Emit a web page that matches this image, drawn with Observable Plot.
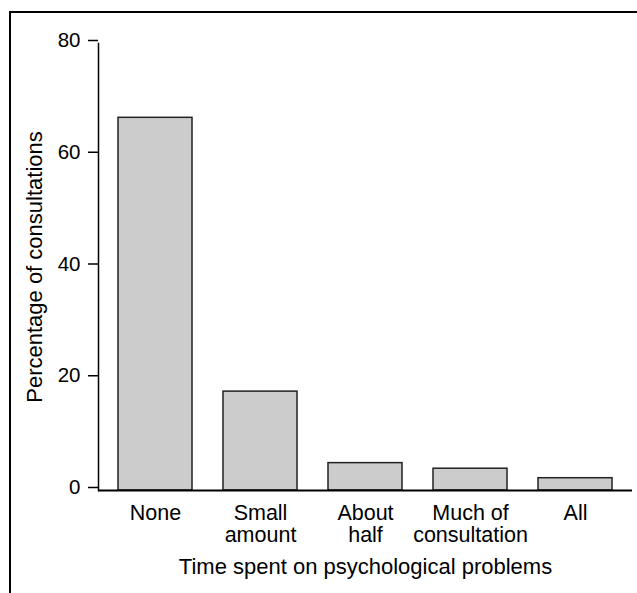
<!DOCTYPE html>
<html>
<head>
<meta charset="utf-8">
<script src="https://cdn.jsdelivr.net/npm/d3@7"></script>
<script src="https://cdn.jsdelivr.net/npm/@observablehq/plot@0.6"></script>
<style>
  html, body { margin: 0; padding: 0; background: #fff; }
  #wrap { position: relative; width: 637px; height: 593px; overflow: hidden; }
  #frame { position: absolute; left: 9px; top: 11px; width: 640px; height: 600px;
           border-left: 2px solid #000; border-top: 2px solid #000; pointer-events: none; }
  #chart { position: absolute; left: 0; top: 0; }
</style>
</head>
<body>
<div id="wrap"><div id="chart"></div><div id="frame"></div></div>
<script>
const categories = ["None", "Small amount", "About half", "Much of consultation", "All"];
const tickLabels = ["None", "Small\namount", "About\nhalf", "Much of\nconsultation", "All"];
const values = [66.7, 17.7, 4.9, 3.9, 2.2];
const yTicks = [0, 20, 40, 60, 80];
const xTitle = "Time spent on psychological problems";
const yTitle = "Percentage of consultations";

const data = categories.map((c, i) => ({category: c, value: values[i]}));
const labelOf = new Map(categories.map((c, i) => [c, tickLabels[i]]));

const chart = Plot.plot({
  width: 637,
  height: 593,
  marginLeft: 98,
  marginRight: 5,
  marginTop: 43,
  marginBottom: 103,
  style: {fontFamily: "'Liberation Sans', Arial, sans-serif", background: "white", color: "black"},
  x: {domain: categories, paddingInner: 0.3, paddingOuter: 0.17},
  y: {domain: [0, 80]},
  marks: [
    Plot.barY(data, {x: "category", y: "value", fill: "#cccccc", stroke: "#222", strokeWidth: 1.5}),
    Plot.axisY({ticks: yTicks, tickSize: 10, tickPadding: 8, fontSize: 20.5, dy: -3, strokeWidth: 1.5, label: null}),
    Plot.axisX({tickSize: 0, tickPadding: 13, fontSize: 21.5, lineHeight: 1.06,
      tickFormat: d => labelOf.get(d), label: null}),
    Plot.text([xTitle], {frameAnchor: "bottom", dy: 83, lineAnchor: "bottom", textAnchor: "middle", fontSize: 22, text: d => d}),
    Plot.text([yTitle], {frameAnchor: "left", dx: -72, rotate: -90, lineAnchor: "top", textAnchor: "middle", fontSize: 22, text: d => d}),
    Plot.frame({anchor: "left", strokeWidth: 1.5}),
    Plot.ruleY([0], {strokeWidth: 2})
  ]
});
document.getElementById("chart").appendChild(chart);
</script>
</body>
</html>
